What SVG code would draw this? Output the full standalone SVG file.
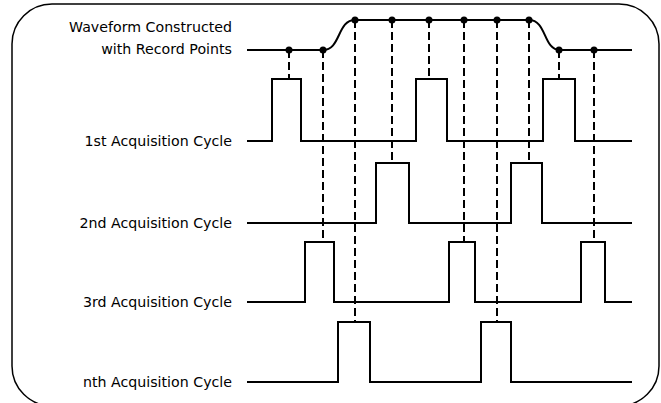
<svg xmlns="http://www.w3.org/2000/svg" width="661" height="403" viewBox="0 0 661 403">
<style>
.lbl{font-family:"DejaVu Sans","Liberation Sans",Arial,sans-serif;font-size:14.2px;fill:#000;text-anchor:end}
.sig{fill:none;stroke:#000;stroke-width:2;stroke-linejoin:miter}
.dash{fill:none;stroke:#000;stroke-width:2;stroke-dasharray:8 4}
.dot{fill:#000}
</style>
<rect width="661" height="403" fill="#fff"/>
<rect id="frame" x="12" y="4" width="647" height="402" rx="40" ry="40" fill="none" stroke="#000" stroke-width="1.5"/>
<g id="labels">
<text class="lbl" x="232" y="32">Waveform Constructed</text>
<text class="lbl" x="232" y="54">with Record Points</text>
<text class="lbl" x="232" y="146">1st Acquisition Cycle</text>
<text class="lbl" x="232" y="228">2nd Acquisition Cycle</text>
<text class="lbl" x="232" y="307">3rd Acquisition Cycle</text>
<text class="lbl" x="232" y="387">nth Acquisition Cycle</text>
</g>
<g id="connectors">
<line class="dash" x1="289" y1="50" x2="289" y2="79"/>
<line class="dash" x1="323" y1="50" x2="323" y2="242"/>
<line class="dash" x1="355" y1="20" x2="355" y2="322"/>
<line class="dash" x1="392" y1="20" x2="392" y2="163"/>
<line class="dash" x1="429" y1="20" x2="429" y2="79"/>
<line class="dash" x1="464" y1="20" x2="464" y2="242"/>
<line class="dash" x1="497" y1="20" x2="497" y2="322"/>
<line class="dash" x1="529" y1="20" x2="529" y2="163"/>
<line class="dash" x1="559" y1="50" x2="559" y2="79"/>
<line class="dash" x1="594" y1="50" x2="594" y2="242"/>
</g>
<g id="waveform">
<path class="sig" d="M247,50 H323 C341,50 337,20 355,20 H529 C547,20 543,50 560,50 H632"/>
<circle class="dot" cx="289" cy="50" r="3.5"/>
<circle class="dot" cx="323" cy="50" r="3.5"/>
<circle class="dot" cx="355" cy="20" r="3.5"/>
<circle class="dot" cx="392" cy="20" r="3.5"/>
<circle class="dot" cx="429" cy="20" r="3.5"/>
<circle class="dot" cx="464" cy="20" r="3.5"/>
<circle class="dot" cx="497" cy="20" r="3.5"/>
<circle class="dot" cx="529" cy="20" r="3.5"/>
<circle class="dot" cx="559" cy="50" r="3.5"/>
<circle class="dot" cx="594" cy="50" r="3.5"/>
</g>
<g id="cycle1">
<path class="sig" d="M247,141 H272 V79 H301 V141 H416 V79 H447 V141 H543 V79 H575 V141 H632"/>
</g>
<g id="cycle2">
<path class="sig" d="M247,223 H376 V163 H409 V223 H511 V163 H542 V223 H632"/>
</g>
<g id="cycle3">
<path class="sig" d="M247,302 H305 V242 H334 V302 H449 V242 H475 V302 H581 V242 H605 V302 H632"/>
</g>
<g id="cyclen">
<path class="sig" d="M247,382 H338 V322 H370 V382 H481 V322 H511 V382 H632"/>
</g>
</svg>
